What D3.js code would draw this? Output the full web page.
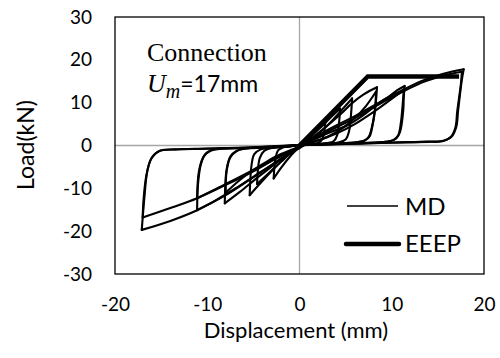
<!DOCTYPE html>
<html>
<head>
<meta charset="utf-8">
<script src="https://cdn.jsdelivr.net/npm/d3@7"></script>
<style>
  body { margin: 0; background: #fff; }
  svg { display: block; }
</style>
</head>
<body>
<svg id="chart" width="500" height="358"></svg>
<script>
// Axis ticks
const xTicks = [-20, -10, 0, 10, 20];
const yTicks = [-30, -20, -10, 0, 10, 20, 30];

// MD hysteresis, one array per loading cycle: [displacement (mm), load (kN)]
const mdCycle1 = [[0,0],[1.0,2.2],[2.0,4.2],[2.8,5.6],[2.7,3.4],[2.5,1.6],[2.1,0.7],[1.2,0.35],[0,0.1],[-1.0,-0.2],[-1.8,-0.45],[-2.3,-1.1],[-2.6,-3.0],[-2.8,-7.7],[-2.0,-5.2],[-1.0,-2.5],[0,-0.3]];
const mdCycle2 = [[0,-0.3],[1.0,1.6],[2.2,4.0],[3.4,6.6],[4.4,8.6],[4.3,5.6],[4.1,2.5],[3.7,1.0],[3.0,0.55],[1.5,0.3],[0,0.1],[-1.5,-0.3],[-3.0,-0.55],[-3.8,-1.2],[-4.3,-2.9],[-4.5,-5.6],[-4.6,-9.0],[-3.4,-6.6],[-2.0,-3.8],[-0.8,-1.5],[0,-0.4]];
const mdCycle3 = [[0,-0.4],[1.2,1.4],[2.6,3.8],[3.8,6.4],[4.8,8.8],[5.7,11.0],[5.6,7.6],[5.4,3.6],[5.0,1.4],[4.2,0.7],[3.0,0.5],[1.5,0.3],[0,0.1],[-1.5,-0.3],[-3.0,-0.5],[-4.2,-0.9],[-4.9,-2.0],[-5.2,-4.6],[-5.4,-11.6],[-4.2,-8.7],[-2.8,-5.5],[-1.4,-2.5],[0,-0.3]];
const mdCycle4 = [[0,-0.3],[1.5,2.0],[3.0,4.6],[4.5,7.4],[5.7,9.9],[7.0,12.0],[8.4,13.6],[8.3,10.6],[8.2,8.3],[7.9,4.5],[7.6,2.1],[7.1,1.2],[6.3,0.8],[4.5,0.5],[2.0,0.3],[0,0.1],[-2.0,-0.3],[-4.0,-0.5],[-5.8,-0.7],[-6.8,-1.2],[-7.5,-2.6],[-7.9,-5.6],[-8.1,-13.5],[-6.5,-10.9],[-4.8,-7.9],[-3.0,-4.9],[-1.5,-2.4],[0,-0.3]];
const mdCycle5 = [[0,-0.3],[1.5,0.8],[3.0,2.0],[4.5,3.8],[6.0,6.4],[7.2,9.2],[8.3,12.6],[8.2,9.0],[7.9,4.8],[7.5,2.0],[7.0,1.1],[6.2,0.7],[4.0,0.45],[2.0,0.3],[0,0.1],[-2.0,-0.3],[-4.0,-0.5],[-5.8,-0.7],[-6.8,-1.3],[-7.5,-2.8],[-7.9,-6.0],[-8.0,-11.0],[-6.5,-8.1],[-5.0,-5.7],[-3.5,-3.7],[-2.0,-2.0],[0,-0.3]];
const mdCycle6 = [[0,-0.3],[1.5,1.3],[3.0,2.8],[5.1,4.6],[7.0,7.2],[8.4,9.6],[9.8,11.6],[10.6,12.9],[11.4,13.9],[11.3,11.0],[11.25,8.3],[10.9,3.2],[10.5,1.7],[10.1,1.2],[9.1,0.8],[7.0,0.6],[4.0,0.4],[0,0.1],[-3.0,-0.4],[-6.0,-0.6],[-8.5,-0.7],[-9.3,-0.9],[-10.2,-2.0],[-10.7,-4.5],[-11.0,-9.0],[-11.1,-15.1],[-9.0,-12.7],[-7.0,-10.1],[-5.0,-7.3],[-3.0,-4.5],[-1.5,-2.3],[0,-0.3]];
const mdCycle7 = [[0,-0.3],[2.0,1.2],[4.0,2.8],[6.0,5.0],[8.0,7.8],[9.8,10.6],[11.3,13.0],[11.2,10.0],[11.0,5.5],[10.7,2.4],[10.2,1.3],[9.0,0.8],[6.0,0.5],[3.0,0.3],[0,0.1],[-3.0,-0.4],[-6.0,-0.6],[-8.6,-0.75],[-9.6,-1.2],[-10.4,-2.6],[-10.9,-6.0],[-11.1,-12.3],[-9.0,-10.1],[-7.0,-7.9],[-5.0,-5.7],[-3.0,-3.5],[-1.5,-1.9],[0,-0.3]];
const mdCycle8 = [[0,-0.3],[2.5,3.0],[6.2,7.1],[9.8,11.4],[11.4,13.2],[13.4,15.2],[15.5,16.7],[17.8,17.8],[17.6,15.3],[17.2,8.3],[17.0,4.4],[16.5,2.1],[15.6,1.1],[14.0,0.9],[10.0,0.7],[5.0,0.4],[0,0.1],[-5.0,-0.4],[-10.0,-0.7],[-13.5,-0.9],[-15.1,-1.2],[-16.0,-2.8],[-16.5,-6.0],[-16.8,-11.8],[-17.1,-19.7],[-14.0,-17.6],[-11.1,-15.1],[-8.0,-11.6],[-5.0,-7.4],[-2.5,-3.8],[0,-0.6]];
const mdCycle9 = [[0,-0.6],[2.5,2.6],[6.0,6.4],[9.8,11.0],[13.4,14.8],[15.6,16.3],[17.6,17.2],[17.5,14.5],[17.1,8.0],[16.9,4.2],[16.4,2.0],[15.5,1.0],[14.0,0.85],[10.0,0.65],[5.0,0.35],[0,0.05],[-5.0,-0.45],[-10.0,-0.75],[-13.8,-0.95],[-15.2,-1.3],[-16.1,-3.2],[-16.6,-7.0],[-16.9,-12.5],[-17.0,-16.8],[-14.0,-14.6],[-11.1,-12.3],[-8.0,-9.2],[-5.0,-6.0],[-2.5,-3.0],[0,-0.3]];
const mdCycles = [mdCycle1, mdCycle2, mdCycle3, mdCycle4, mdCycle5, mdCycle6, mdCycle7, mdCycle8, mdCycle9];

// Equivalent energy elastic-plastic curve
const eeep = [[0,0],[7.4,16.1],[17.3,16.1]];

const legendLabels = ["MD", "EEEP"];

const sans = "Lato, 'Open Sans', sans-serif";
const serif = "'Liberation Serif', 'DejaVu Serif', serif";

const plot = { left: 115, right: 484, top: 17, bottom: 274 };

const x = d3.scaleLinear().domain([-20, 20]).range([plot.left, plot.right]);
const y = d3.scaleLinear().domain([-30, 30]).range([plot.bottom, plot.top]);

const svg = d3.select("#chart");

// zero lines
svg.append("line")
  .attr("x1", x(0)).attr("x2", x(0)).attr("y1", plot.top).attr("y2", plot.bottom)
  .attr("stroke", "#a6a6a6").attr("stroke-width", 1.3);
svg.append("line")
  .attr("x1", plot.left).attr("x2", plot.right).attr("y1", y(0)).attr("y2", y(0))
  .attr("stroke", "#a6a6a6").attr("stroke-width", 1.3);

// split a cycle into branches that each run one way in displacement,
// so reversal points stay sharp
function branches(pts) {
  const out = [];
  let cur = [pts[0]], dir = 0;
  for (let i = 1; i < pts.length; i++) {
    const s = Math.sign(pts[i][0] - pts[i - 1][0]);
    if (dir !== 0 && s !== 0 && s !== dir) {
      out.push(cur);
      cur = [pts[i - 1]];
    }
    if (s !== 0) dir = s;
    cur.push(pts[i]);
  }
  out.push(cur);
  return out;
}

const smooth = d3.line()
  .x(d => x(d[0])).y(d => y(d[1]))
  .curve(d3.curveCatmullRom.alpha(0.5));

const mdG = svg.append("g")
  .attr("fill", "none").attr("stroke", "#000")
  .attr("stroke-width", 2.1).attr("stroke-linecap", "round").attr("stroke-linejoin", "round");
mdCycles.forEach(c => {
  branches(c).forEach(b => mdG.append("path").attr("d", smooth(b)));
});

const straight = d3.line().x(d => x(d[0])).y(d => y(d[1]));
svg.append("path")
  .attr("d", straight(eeep))
  .attr("fill", "none").attr("stroke", "#000")
  .attr("stroke-width", 4.5).attr("stroke-linejoin", "miter");

// plot area border
svg.append("rect")
  .attr("x", plot.left).attr("y", plot.top)
  .attr("width", plot.right - plot.left).attr("height", plot.bottom - plot.top)
  .attr("fill", "none").attr("stroke", "#000").attr("stroke-width", 1.3);

// axes (labels only)
const yAxis = svg.append("g")
  .attr("transform", `translate(${plot.left},0)`)
  .call(d3.axisLeft(y).tickValues(yTicks).tickSize(0).tickPadding(23).tickFormat(d3.format("d")));
const xAxis = svg.append("g")
  .attr("transform", `translate(0,${plot.bottom})`)
  .call(d3.axisBottom(x).tickValues(xTicks).tickSize(0).tickPadding(24).tickFormat(d3.format("d")));
[xAxis, yAxis].forEach(a => {
  a.select(".domain").remove();
  a.selectAll("text").attr("font-family", sans).attr("font-size", 19).attr("fill", "#000");
});
yAxis.selectAll("text").text(d => d < 0 ? "-" + Math.abs(d) : d);
xAxis.selectAll("text").text(d => d < 0 ? "-" + Math.abs(d) : d);

// axis titles
svg.append("text")
  .attr("x", 296).attr("y", 337.5)
  .attr("text-anchor", "middle")
  .attr("font-family", sans).attr("font-size", 22)
  .text("Displacement (mm)");
svg.append("text")
  .attr("transform", "translate(34,145) rotate(-90)")
  .attr("text-anchor", "middle")
  .attr("font-family", sans).attr("font-size", 23)
  .text("Load(kN)");

// annotation
svg.append("text")
  .attr("x", 147).attr("y", 61)
  .attr("font-family", serif).attr("font-size", 26)
  .text("Connection");
const note = svg.append("text").attr("x", 147).attr("y", 92);
note.append("tspan").attr("font-family", serif).attr("font-style", "italic").attr("font-size", 26).text("U");
note.append("tspan").attr("font-family", serif).attr("font-style", "italic").attr("font-size", 20).attr("dy", 6).text("m");
note.append("tspan").attr("font-family", sans).attr("font-size", 23).attr("dy", -6).text("=17mm");

// legend
const legend = svg.append("g");
legend.append("line")
  .attr("x1", 347).attr("x2", 398).attr("y1", 206).attr("y2", 206)
  .attr("stroke", "#000").attr("stroke-width", 1.7);
legend.append("line")
  .attr("x1", 346).attr("x2", 399).attr("y1", 244).attr("y2", 244)
  .attr("stroke", "#000").attr("stroke-width", 4.5).attr("stroke-linecap", "round");
legend.selectAll("text.lbl").data(legendLabels).enter().append("text")
  .attr("class", "lbl")
  .attr("x", 405).attr("y", (d, i) => i === 0 ? 215 : 252)
  .attr("font-family", sans).attr("font-size", 24)
  .text(d => d);
</script>
</body>
</html>
